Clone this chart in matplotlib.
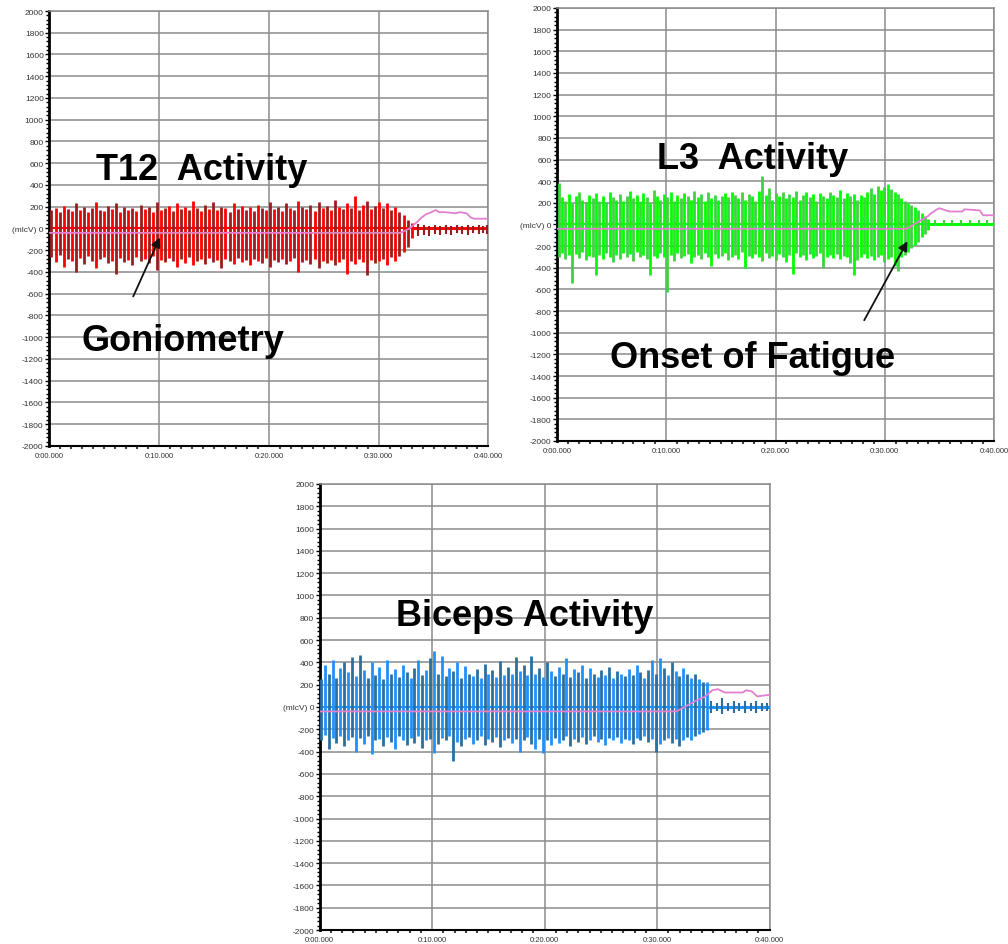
import numpy as np
import matplotlib
matplotlib.use('Agg')
import matplotlib.pyplot as plt
from matplotlib.ticker import MultipleLocator

plt.rcParams['font.family'] = ['Liberation Sans', 'DejaVu Sans']

# ---------------- data ----------------
x_ticks = [0, 10, 20, 30, 40]
x_labels = ['0:00.000', '0:10.000', '0:20.000', '0:30.000', '0:40.000']
y_ticks = list(range(-2000, 2001, 200))
y_labels = ['(mlcV) 0' if v == 0 else str(v) for v in y_ticks]

# T12 burst (peak positive / negative per spike, micro-volts)
t12_span = [0.2, 33.0]
t12_pos = [170,190,150,210,180,160,230,170,200,150,
           190,240,170,160,210,180,230,150,200,170,
           190,160,220,180,200,150,240,170,190,210,
           160,230,180,200,170,250,190,160,220,180,
           240,170,200,190,150,230,180,210,170,200,
           160,220,190,170,240,180,200,160,230,190,
           170,250,200,180,220,160,240,190,210,170,
           260,200,180,230,190,300,170,220,250,180,
           210,240,190,230,170,200,150,120,80,50]
t12_neg = [-260,-310,-240,-350,-280,-300,-400,-270,-330,-250,
           -300,-360,-280,-260,-320,-300,-420,-270,-310,-290,
           -340,-260,-300,-280,-320,-250,-380,-290,-310,-270,
           -300,-350,-280,-320,-260,-340,-300,-280,-330,-270,
           -310,-290,-360,-280,-300,-330,-270,-310,-290,-340,
           -280,-300,-320,-270,-350,-290,-310,-280,-330,-300,
           -270,-400,-310,-290,-330,-280,-360,-300,-320,-290,
           -340,-310,-280,-420,-300,-330,-280,-310,-430,-290,
           -320,-300,-280,-340,-260,-300,-250,-220,-170,-90]
t12_tail_t = [33.6,34.1,34.6,35.1,35.6,36.1,36.6,37.1,37.6,38.1,38.6,39.1,39.5,39.9]
t12_tail_lo = [-70,-60,-70,-50,-60,-50,-60,-40,-50,-60,-40,-50,-40,-50]
t12_tail_hi = [40,30,20,30,20,30,20,30,20,30,20,30,20,30]
t12_gon_t = [0, 32.0, 32.8, 33.5, 33.9, 34.3, 34.8, 35.2, 35.5, 36.0, 37.0, 37.4, 38.0, 38.4, 38.7, 40]
t12_gon_v = [-40, -40, 0, 60, 100, 130, 150, 170, 150, 150, 140, 150, 140, 100, 90, 90]

# L3 burst
l3_span = [0.15, 34.0]
l3_pos = [380,250,220,280,200,260,300,230,210,270,
          240,290,220,260,210,300,250,230,280,220,
          260,310,240,270,220,290,250,200,320,260,
          230,280,250,300,220,270,240,290,260,230,
          310,250,280,220,300,240,270,230,260,290,
          250,300,270,240,300,230,280,260,220,310,
          450,270,340,230,290,260,300,240,280,250,
          310,230,270,300,250,280,220,290,260,240,
          300,270,250,320,240,290,260,280,230,270,
          250,300,340,280,360,320,350,370,330,300,
          280,240,220,200,180,160,130,110,80,50]
l3_neg = [-300,-260,-320,-280,-545,-270,-310,-250,-330,-290,
          -300,-470,-280,-320,-260,-300,-350,-280,-320,-260,
          -300,-270,-340,-250,-300,-280,-320,-470,-290,-310,
          -260,-300,-620,-280,-340,-260,-310,-290,-270,-360,
          -300,-280,-320,-260,-300,-380,-270,-310,-290,-260,
          -330,-300,-280,-320,-250,-400,-290,-310,-270,-300,
          -340,-260,-310,-290,-330,-270,-300,-350,-280,-460,
          -260,-300,-280,-330,-270,-310,-290,-260,-400,-300,
          -280,-310,-270,-320,-290,-300,-360,-470,-330,-300,
          -270,-310,-290,-330,-300,-280,-350,-320,-300,-380,
          -430,-300,-280,-250,-220,-190,-160,-120,-90,-50]
l3_tail_t = [34.6,35.4,36.2,37.0,37.8,38.6,39.4]
l3_tail_lo = [-10,-10,-10,-10,-10,-10,-10]
l3_tail_hi = [45,40,45,40,45,40,40]
l3_gon_t = [0, 32.0, 33.0, 34.0, 34.2, 34.7, 35.0, 35.3, 35.9, 37.1, 37.3, 38.7, 39.0, 40]
l3_gon_v = [-40, -40, 20, 80, 100, 135, 150, 140, 120, 120, 140, 130, 85, 85]

# Biceps burst
bi_span = [0.1, 34.4]
bi_pos = [250,380,300,420,260,350,400,310,450,280,
          470,330,260,400,290,360,250,420,300,340,
          270,380,310,260,350,420,290,330,440,500,
          300,460,280,350,320,400,260,370,300,280,
          340,260,390,300,330,270,410,290,360,300,
          450,320,380,290,460,300,350,270,400,320,
          280,360,300,440,270,340,310,380,260,350,
          300,270,330,290,360,260,320,300,280,340,
          290,380,310,260,330,420,300,440,350,290,
          400,320,280,350,300,260,300,250,220,220]
bi_neg = [-300,-250,-380,-280,-320,-260,-350,-300,-270,-400,
          -280,-330,-260,-420,-300,-290,-350,-270,-310,-380,
          -260,-300,-340,-280,-320,-260,-370,-300,-290,-410,
          -330,-280,-300,-260,-480,-310,-350,-290,-270,-330,
          -300,-260,-340,-290,-310,-270,-360,-300,-280,-320,
          -290,-400,-300,-270,-330,-380,-290,-410,-300,-340,
          -280,-320,-300,-260,-350,-290,-310,-270,-330,-300,
          -260,-310,-290,-340,-280,-300,-270,-320,-290,-300,
          -330,-280,-300,-260,-310,-290,-400,-330,-300,-280,
          -320,-290,-350,-300,-270,-300,-260,-240,-220,-210]
bi_tail_t = [34.8,35.3,35.8,36.3,36.8,37.3,37.8,38.3,38.8,39.3,39.8]
bi_tail_lo = [-50,-40,-60,-40,-50,-40,-50,-40,-50,-40,-40]
bi_tail_hi = [50,40,80,40,50,40,50,40,50,40,40]
bi_gon_t = [0, 31.7, 33.5, 34.2, 34.9, 35.4, 36.0, 37.6, 37.9, 38.4, 38.9, 40]
bi_gon_v = [-40, -40, 60, 90, 150, 160, 130, 130, 150, 140, 95, 110]

PINK = '#e27fcf'

fig = plt.figure(figsize=(10.08, 9.45), dpi=100)


def setup(ax):
    ax.set_xlim(0, 40)
    ax.set_ylim(-2000, 2000)
    ax.set_xticks(x_ticks)
    ax.set_xticklabels(x_labels, fontsize=5.5, color='#333333')
    ax.set_yticks(y_ticks)
    ax.set_yticklabels(y_labels, fontsize=6, color='#333333')
    ax.xaxis.set_minor_locator(MultipleLocator(1))
    ax.yaxis.set_minor_locator(MultipleLocator(40))
    ax.grid(True, which='major', color='#8c8c8c', lw=1.1)
    ax.set_axisbelow(True)
    ax.tick_params(axis='y', which='major', length=3, width=1, pad=1)
    ax.tick_params(axis='y', which='minor', length=2.5, width=1)
    ax.tick_params(axis='x', which='major', length=0, pad=4)
    ax.tick_params(axis='x', which='minor', length=2, width=1.5, color='#444444')
    ax.spines['left'].set_linewidth(2)
    ax.spines['bottom'].set_linewidth(1.5)
    for s in ('top', 'right'):
        ax.spines[s].set_color('#8c8c8c')
        ax.spines[s].set_linewidth(1.1)


def draw(ax, span, pos, neg, dark, bright, tail_t, tail_lo, tail_hi, gon_t, gon_v):
    t = np.linspace(span[0], span[1], len(pos))
    cols = [dark if i % 2 == 0 else bright for i in range(len(pos))]
    ax.hlines(0, t[0], t[-1], color=bright, lw=1.5, zorder=2)
    ax.vlines(t, neg, pos, colors=cols, lw=2.0, zorder=3)
    ax.hlines(0, t[-1], ax.get_xlim()[1], color=bright, lw=2.2, zorder=3)
    ax.vlines(tail_t, tail_lo, tail_hi, color=dark, lw=1.5, zorder=3)
    ax.plot(gon_t, gon_v, color=PINK, lw=1.3, zorder=5)


ax1 = fig.add_axes([0.0489, 0.527, 0.4357, 0.4603])
setup(ax1)
draw(ax1, t12_span, t12_pos, t12_neg, '#9a1c1c', '#ff0000',
     t12_tail_t, t12_tail_lo, t12_tail_hi, t12_gon_t, t12_gon_v)
ax1.text(13.9, 547, 'T12  Activity', fontsize=26, fontweight='bold',
         ha='center', va='center', zorder=6)
ax1.text(12.2, -1030, 'Goniometry', fontsize=26, fontweight='bold',
         ha='center', va='center', zorder=6)
ax1.annotate('', xy=(10.17, -60), xytext=(7.54, -648),
             arrowprops=dict(arrowstyle='-|>', color='#111111', lw=1.3,
                             mutation_scale=14), zorder=7)

ax2 = fig.add_axes([0.5526, 0.5323, 0.4335, 0.4582])
setup(ax2)
draw(ax2, l3_span, l3_pos, l3_neg, '#3fd13f', '#00ff00',
     l3_tail_t, l3_tail_lo, l3_tail_hi, l3_gon_t, l3_gon_v)
ax2.text(17.9, 614, 'L3  Activity', fontsize=26, fontweight='bold',
         ha='center', va='center', zorder=6)
ax2.text(17.9, -1225, 'Onset of Fatigue', fontsize=26, fontweight='bold',
         ha='center', va='center', zorder=6)
ax2.annotate('', xy=(32.2, -132), xytext=(28.0, -907),
             arrowprops=dict(arrowstyle='-|>', color='#111111', lw=1.3,
                             mutation_scale=14), zorder=7)

ax3 = fig.add_axes([0.3172, 0.0148, 0.4464, 0.472])
setup(ax3)
draw(ax3, bi_span, bi_pos, bi_neg, '#2a6f9f', '#1e90ff',
     bi_tail_t, bi_tail_lo, bi_tail_hi, bi_gon_t, bi_gon_v)
ax3.text(18.2, 819, 'Biceps Activity', fontsize=26, fontweight='bold',
         ha='center', va='center', zorder=6)

fig.savefig('out.png', dpi=100, facecolor='white')
